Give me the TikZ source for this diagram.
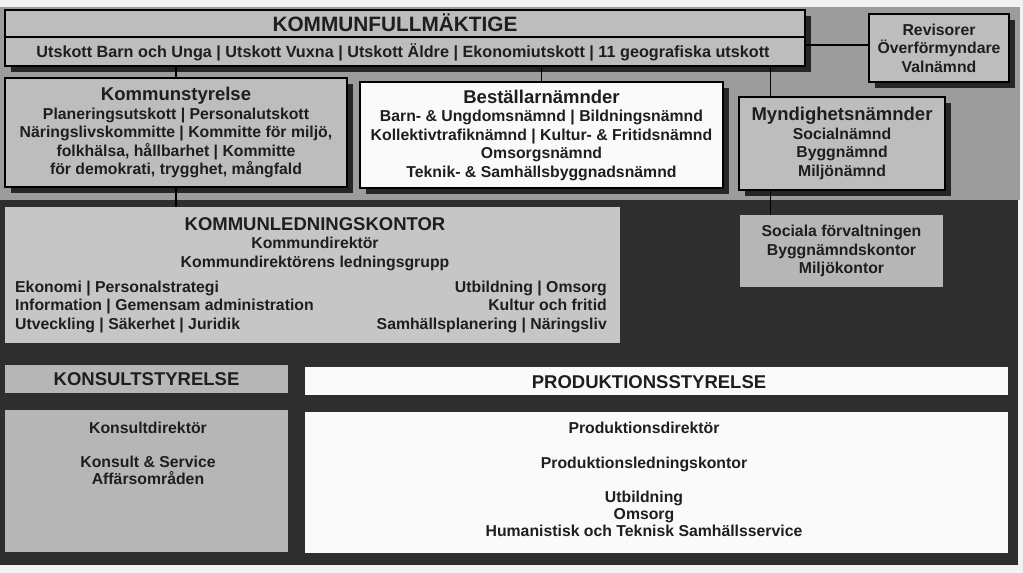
\documentclass[tikz,border=0pt]{standalone}
\usepackage{fontspec}
\setmainfont{Liberation Sans}
\usetikzlibrary{shadows}
\definecolor{paper}{HTML}{F2F2F2}
\definecolor{panel}{HTML}{9C9C9C}
\definecolor{boxgray}{HTML}{BDBDBD}
\definecolor{darkpanel}{HTML}{2E2E2E}
\definecolor{klkgray}{HTML}{C6C6C6}
\definecolor{lowgray}{HTML}{B6B6B6}
\definecolor{boxwhite}{HTML}{FAFAFA}
\definecolor{ink}{HTML}{1E1E1E}

\begin{document}
\begin{tikzpicture}[x=1pt,y=-1pt,
  topbox/.style={draw=black,line width=1.3pt,fill=boxgray,inner sep=0pt,
    drop shadow={shadow xshift=6pt,shadow yshift=-6pt,fill=black!85,opacity=1}},
  lowbox/.style={fill=#1,inner sep=0pt},
  ttl/.style={text=ink,inner sep=0pt,font=\fontsize{18.5}{18.5}\selectfont\bfseries},
  txt/.style={text=ink,inner sep=0pt,align=center,font=\fontsize{15.8}{18.5}\selectfont\bfseries},
  link/.style={draw=black,line width=1.3pt}]
  \useasboundingbox (0,0) rectangle (1023,573);
  \fill[paper] (0,0) rectangle (1023,573);
  \fill[panel] (0,7) rectangle (1020,200);
  \fill[darkpanel] (0,200) rectangle (1018,565);
% Kommunfullmaktige and its committees
  \node[topbox,minimum width=800pt,minimum height=56pt] (kf) at (405,38) {};
  \coordinate (kfsep) at (0,37);
  \draw[link] (kf.west |- kfsep) -- (kf.east |- kfsep);
  \node[ttl,font=\fontsize{20.8}{20.8}\selectfont\bfseries] (kft) at (395,23) {KOMMUNFULLMÄKTIGE};
  \node[txt,font=\fontsize{16.2}{18.5}\selectfont\bfseries] (kfu) at (403,52) {Utskott Barn och Unga | Utskott Vuxna | Utskott Äldre | Ekonomiutskott | 11 geografiska utskott};
  \node[topbox,txt,minimum width=140pt,minimum height=68pt] (rev) at (939,48)
    {Revisorer\\Överförmyndare\\Valnämnd};
% boards under the council
  \node[topbox,txt,minimum width=342pt,minimum height=109pt] (ks) at (176,132.5)
    {{\fontsize{18.5}{18.5}\selectfont Kommunstyrelse}\\
     Planeringsutskott | Personalutskott\\
     Näringslivskommitte | Kommitte för miljö,\\
     folkhälsa, hållbarhet | Kommitte\\
     för demokrati, trygghet, mångfald};
  \node[topbox,txt,fill=boxwhite,minimum width=363pt,minimum height=106pt] (best) at (541.5,135)
    {{\fontsize{18.5}{18.5}\selectfont Beställarnämnder}\\
     Barn- \& Ungdomsnämnd | Bildningsnämnd\\
     Kollektivtrafiknämnd | Kultur- \& Fritidsnämnd\\
     Omsorgsnämnd\\
     Teknik- \& Samhällsbyggnadsnämnd};
  \node[topbox,txt,minimum width=206pt,minimum height=93pt] (mynd) at (842,143.5)
    {{\fontsize{18.5}{18.5}\selectfont Myndighetsnämnder}\\
     Socialnämnd\\Byggnämnd\\Miljönämnd};
  \draw[link] ([yshift=3pt]rev.west) -- ([yshift=3pt]rev.west -| kf.east);
  \draw[link] (ks.north) -- (ks.north |- kf.south);
  \draw[link] (best.north) -- (best.north |- kf.south);
  \draw[link] ([xshift=32pt]mynd.north west) -- ([xshift=32pt]mynd.north west |- kf.south);
% offices
  \node[lowbox=klkgray,minimum width=615pt,minimum height=136pt] (klk) at (312.5,275) {};
  \node[lowbox=lowgray,txt,minimum width=203pt,minimum height=72pt] (soc) at (841.5,251)
    {Sociala förvaltningen\\Byggnämndskontor\\Miljökontor};
  \draw[link] (ks.south) -- (ks.south |- klk.north);
  \draw[link] ([xshift=32pt]mynd.south west) -- ([xshift=32pt]mynd.south west |- soc.north);
  \node[txt] (klkt) at (315,244)
    {{\fontsize{18.5}{18.5}\selectfont KOMMUNLEDNINGSKONTOR}\\
     Kommundirektör\\Kommundirektörens ledningsgrupp};
  \node[txt,align=left,anchor=west] (klkl) at (15,307)
    {Ekonomi | Personalstrategi\\Information | Gemensam administration\\Utveckling | Säkerhet | Juridik};
  \node[txt,align=right,anchor=east] (klkr) at (607,307)
    {Utbildning | Omsorg\\Kultur och fritid\\Samhällsplanering | Näringsliv};
% consult and production
  \node[lowbox=lowgray,ttl,minimum width=283pt,minimum height=28pt] (kons) at (146.5,379) {KONSULTSTYRELSE};
  \node[lowbox=boxwhite,ttl,minimum width=703pt,minimum height=28pt] (prod) at (656.5,381) {};
  \node[ttl] (prodt) at (649,382) {PRODUKTIONSSTYRELSE};
  \node[lowbox=lowgray,minimum width=283pt,minimum height=142pt] (konsd) at (146.5,481) {};
  \node[txt,font=\fontsize{15.8}{17}\selectfont\bfseries] (konst) at (148,453)
    {Konsultdirektör\\[17pt]Konsult \& Service\\Affärsområden};
  \node[lowbox=boxwhite,minimum width=703pt,minimum height=141pt] (prodd) at (656.5,482.5) {};
  \node[txt,font=\fontsize{15.8}{17}\selectfont\bfseries] (prodtx) at (644,479)
    {Produktionsdirektör\\[18pt]Produktionsledningskontor\\[17pt]Utbildning\\Omsorg\\
     Humanistisk och Teknisk Samhällsservice};
\end{tikzpicture}
\end{document}
